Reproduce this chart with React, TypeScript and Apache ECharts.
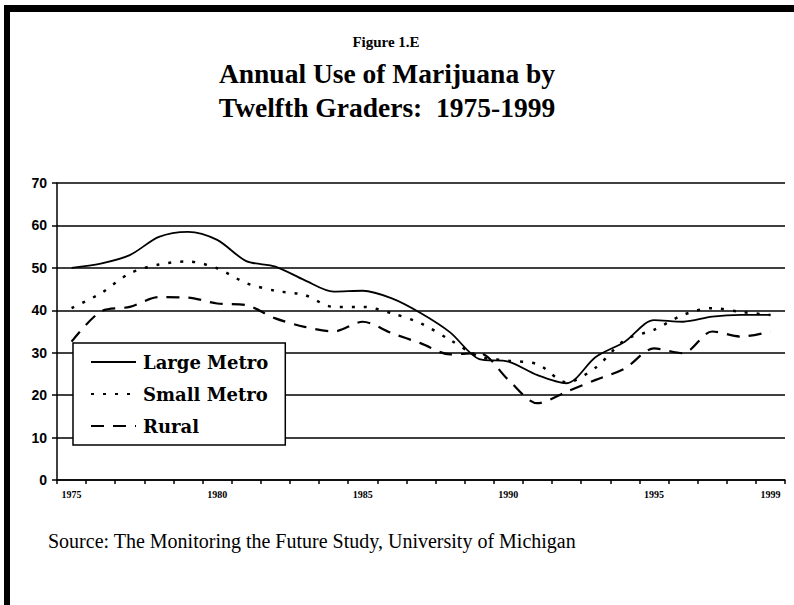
import React, { useEffect, useRef } from "react";
import * as echarts from "echarts";

const years: string[] = [
  "1975", "1976", "1977", "1978", "1979", "1980", "1981", "1982", "1983", "1984",
  "1985", "1986", "1987", "1988", "1989", "1990", "1991", "1992", "1993", "1994",
  "1995", "1996", "1997", "1998", "1999",
];
const shownYears: string[] = ["1975", "1980", "1985", "1990", "1995", "1999"];
const largeMetro: number[] = [
  50.0, 51.0, 53.0, 57.3, 58.5, 56.6, 51.6, 50.3, 47.1, 44.4,
  44.6, 42.8, 39.3, 34.8, 28.5, 27.9, 24.7, 22.8, 29.0, 32.6,
  37.7, 37.3, 38.5, 38.9, 38.9,
];
const smallMetro: number[] = [
  40.5, 44.0, 48.7, 50.8, 51.5, 49.9, 46.4, 44.6, 43.6, 40.8,
  40.8, 39.3, 36.9, 33.0, 29.1, 28.1, 27.3, 23.0, 26.5, 33.0,
  35.4, 38.9, 40.5, 39.6, 38.9,
];
const rural: number[] = [
  32.6, 39.7, 40.8, 43.1, 43.0, 41.6, 41.2, 38.1, 36.1, 35.0,
  37.3, 34.6, 32.2, 29.6, 29.9, 23.6, 18.1, 20.8, 23.6, 26.3,
  31.0, 29.9, 35.0, 33.8, 35.0,
];
const seriesNames: string[] = ["Large Metro", "Small Metro", "Rural"];

export default function App() {
  const ref = useRef<HTMLDivElement>(null);
  useEffect(() => {
    if (!ref.current) return;
    const chart = echarts.init(ref.current, null, { renderer: "svg" });
    const serif = "'Liberation Serif', 'Times New Roman', serif";
    chart.setOption({
      animation: false,
      backgroundColor: "#ffffff",
      graphic: [
        { type: "rect", shape: { x: 4, y: 5, width: 790, height: 7 }, style: { fill: "#000" } },
        { type: "rect", shape: { x: 4, y: 5, width: 6, height: 600 }, style: { fill: "#000" } },
        {
          type: "text", x: 386, y: 42,
          style: { text: "Figure 1.E", fill: "#000", font: `bold 15px ${serif}`, align: "center", verticalAlign: "middle" },
        },
        {
          type: "text", x: 387, y: 73,
          style: { text: "Annual Use of Marijuana by", fill: "#000", font: `bold 27.5px ${serif}`, align: "center", verticalAlign: "middle" },
        },
        {
          type: "text", x: 387, y: 107,
          style: { text: "Twelfth Graders:  1975-1999", fill: "#000", font: `bold 27.5px ${serif}`, align: "center", verticalAlign: "middle" },
        },
        {
          type: "text", x: 48, y: 541,
          style: { text: "Source: The Monitoring the Future Study, University of Michigan", fill: "#000", font: `20px ${serif}`, align: "left", verticalAlign: "middle" },
        },
      ],
      grid: { left: 57, right: 9, top: 183, bottom: 125, containLabel: false },
      legend: {
        orient: "vertical",
        left: 73,
        top: 343,
        data: seriesNames,
        backgroundColor: "#fff",
        borderColor: "#000",
        borderWidth: 1.5,
        padding: [10, 17, 10, 17],
        itemWidth: 45,
        itemHeight: 18,
        itemGap: 14,
        itemStyle: { opacity: 0, borderWidth: 0 },
        textStyle: { color: "#000", fontFamily: "'DejaVu Serif', serif", fontWeight: "bold", fontSize: 18, lineHeight: 18, padding: [0, 0, 0, 2] },
      },
      xAxis: {
        type: "category",
        data: years,
        boundaryGap: true,
        axisLine: { lineStyle: { color: "#000", width: 1.5 } },
        axisTick: { show: true, length: 4, lineStyle: { color: "#000", width: 1.5 } },
        axisLabel: {
          interval: 0,
          color: "#000",
          fontFamily: serif,
          fontWeight: "bold",
          fontSize: 10,
          margin: 9,
          formatter: (v: string) => (shownYears.includes(v) ? v : ""),
        },
        splitLine: { show: false },
      },
      yAxis: {
        type: "value",
        min: 0,
        max: 70,
        interval: 10,
        axisLine: { show: true, lineStyle: { color: "#000", width: 1.5 } },
        axisTick: { show: true, length: 5, lineStyle: { color: "#000", width: 1.5 } },
        axisLabel: { color: "#000", fontFamily: "'Liberation Sans', Arial, sans-serif", fontWeight: "bold", fontSize: 14, margin: 10 },
        splitLine: { show: true, lineStyle: { color: "#000", width: 1.5 } },
      },
      series: [
        {
          name: seriesNames[0], type: "line", data: largeMetro, symbol: "none", smooth: 0.3,
          lineStyle: { color: "#000", width: 1.8, type: "solid" }, itemStyle: { color: "#000" },
        },
        {
          name: seriesNames[1], type: "line", data: smallMetro, symbol: "none", smooth: 0.3,
          lineStyle: { color: "#000", width: 2.5, type: [3, 9] }, itemStyle: { color: "#000" },
        },
        {
          name: seriesNames[2], type: "line", data: rural, symbol: "none", smooth: 0.3,
          lineStyle: { color: "#000", width: 2.2, type: [13, 9] }, itemStyle: { color: "#000" },
        },
      ],
    });
    return () => chart.dispose();
  }, []);
  return <div ref={ref} style={{ position: "fixed", left: 0, top: 0, width: 794, height: 605 }} />;
}
